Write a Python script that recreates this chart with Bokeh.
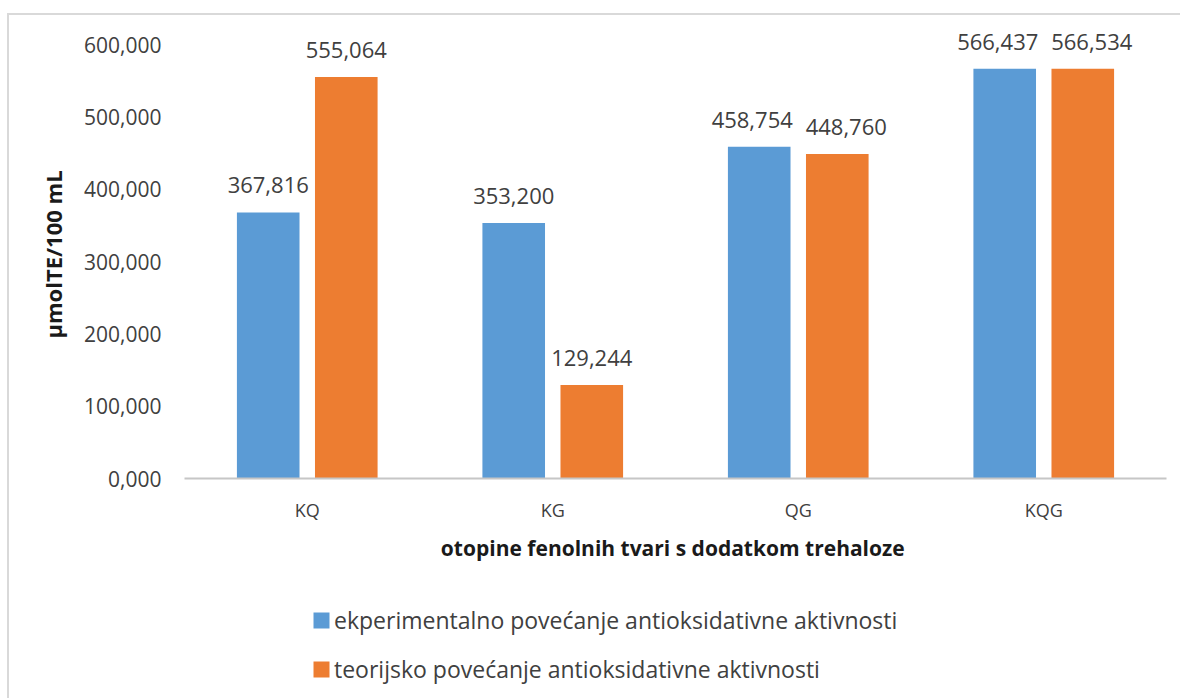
from bokeh.plotting import figure
from bokeh.layouts import column
from bokeh.models import (ColumnDataSource, FactorRange, Range1d, LabelSet, Legend,
                          LegendItem, CustomJSTickFormatter, FixedTicker)
from bokeh.core.properties import value
from bokeh.transform import dodge
from bokeh.embed import file_html
from bokeh.resources import INLINE

# ---- data ----
categories = ["KQ", "KG", "QG", "KQG"]
eksperimentalno = [367.816, 353.200, 458.754, 566.437]
teorijsko = [555.064, 129.244, 448.760, 566.534]
y_ticks = [0, 100, 200, 300, 400, 500, 600]

series_names = ["ekperimentalno povećanje antioksidativne aktivnosti",
                "teorijsko povećanje antioksidativne aktivnosti"]
x_title = "otopine fenolnih tvari s dodatkom  trehaloze"
y_title = "μmolTE/100 mL"


def fmt(v):
    return f"{v:.3f}".replace(".", ",")


# labels of a pair that sit at nearly the same height are pushed apart a little
Y_MAX = 619.4
FRAME_H = 448
px_per_unit = FRAME_H / Y_MAX
eks_dx, teo_dx = [], []
for a, b in zip(eksperimentalno, teorijsko):
    close = abs(a - b) * px_per_unit < 25
    eks_dx.append(-7 if close else 0)
    teo_dx.append(9 if close else 0)

src = ColumnDataSource(dict(
    cat=categories,
    eks=eksperimentalno,
    teo=teorijsko,
    eks_lbl=[fmt(v) for v in eksperimentalno],
    teo_lbl=[fmt(v) for v in teorijsko],
    eks_dx=eks_dx,
    teo_dx=teo_dx,
))

FONT = "Open Sans"
BLUE = "#5B9BD5"
ORANGE = "#ED7D31"
TXT = "#404040"

x_range = FactorRange(*categories, range_padding=0)

p = figure(x_range=x_range,
           y_range=Range1d(0, Y_MAX),
           frame_width=982, frame_height=FRAME_H,
           min_border_left=175, min_border_right=14,
           min_border_top=15, min_border_bottom=112,
           output_backend="svg", toolbar_location=None)

p.outline_line_color = None
p.xgrid.grid_line_color = None
p.ygrid.grid_line_color = None

OFF = 0.159
W = 0.255
p.vbar(x=dodge("cat", -OFF, range=x_range), top="eks", width=W, source=src,
       fill_color=BLUE, line_color=None)
p.vbar(x=dodge("cat", OFF, range=x_range), top="teo", width=W, source=src,
       fill_color=ORANGE, line_color=None)

for col, off in (("eks", -OFF), ("teo", OFF)):
    lbl = LabelSet(x=dodge("cat", off, range=x_range), y=col, text=col + "_lbl",
                   source=src, text_align="center", text_baseline="alphabetic",
                   x_offset=col + "_dx", y_offset=19,
                   text_font=value(FONT), text_font_size=value("22px"),
                   text_color=TXT)
    p.add_layout(lbl)

# y axis
ya = p.yaxis[0]
ya.ticker = FixedTicker(ticks=y_ticks)
ya.formatter = CustomJSTickFormatter(code="return tick.toFixed(3).replace('.', ',');")
ya.axis_line_color = None
ya.major_tick_line_color = None
ya.minor_tick_line_color = None
ya.major_tick_out = 0
ya.major_tick_in = 0
ya.major_label_standoff = 23
ya.major_label_text_font = FONT
ya.major_label_text_font_size = "21px"
ya.major_label_text_color = TXT
ya.axis_label = y_title
ya.axis_label_text_font = FONT
ya.axis_label_text_font_size = "22px"
ya.axis_label_text_font_style = "bold"
ya.axis_label_text_color = "#1a1a1a"
ya.axis_label_standoff = 13

# x axis
xa = p.xaxis[0]
xa.axis_line_color = "#c6c6c6"
xa.axis_line_width = 2
xa.major_tick_line_color = None
xa.minor_tick_line_color = None
xa.major_tick_out = 0
xa.major_tick_in = 0
xa.major_label_standoff = 19
xa.major_label_text_font = FONT
xa.major_label_text_font_size = "18px"
xa.major_label_text_color = TXT
xa.axis_label = x_title
xa.axis_label_text_font = FONT
xa.axis_label_text_font_size = "21px"
xa.axis_label_text_font_style = "bold"
xa.axis_label_text_color = "#1a1a1a"
xa.axis_label_standoff = 9

# ---- legend strip below the chart (its own bar renderers are hidden) ----
q = figure(x_range=x_range, y_range=Range1d(-2, -1),
           frame_width=982, frame_height=108,
           min_border_left=175, min_border_right=14,
           min_border_top=0, min_border_bottom=0,
           x_axis_location=None, y_axis_location=None,
           output_backend="svg", toolbar_location=None)
q.outline_line_color = None
q.xgrid.grid_line_color = None
q.ygrid.grid_line_color = None
g1 = q.vbar(x=dodge("cat", -OFF, range=x_range), top="eks", width=W, source=src,
            fill_color=BLUE, line_color=None, visible=False)
g2 = q.vbar(x=dodge("cat", OFF, range=x_range), top="teo", width=W, source=src,
            fill_color=ORANGE, line_color=None, visible=False)

legend = Legend(items=[LegendItem(label=series_names[0], renderers=[g1]),
                       LegendItem(label=series_names[1], renderers=[g2])],
                location=(127, 13), orientation="vertical",
                glyph_width=20, glyph_height=20, label_height=20,
                label_standoff=3, spacing=17, padding=0, margin=0,
                border_line_color=None, background_fill_alpha=0,
                inactive_fill_alpha=0,
                label_text_font=FONT, label_text_font_size="23px",
                label_text_color=TXT)
q.add_layout(legend, "center")

layout = column(p, q, spacing=0,
                styles={"border-top": "2px solid #d9d9d9",
                        "border-left": "2px solid #d9d9d9",
                        "margin-top": "13px",
                        "margin-left": "7px"})

open("out.html", "w").write(file_html(layout, INLINE))
